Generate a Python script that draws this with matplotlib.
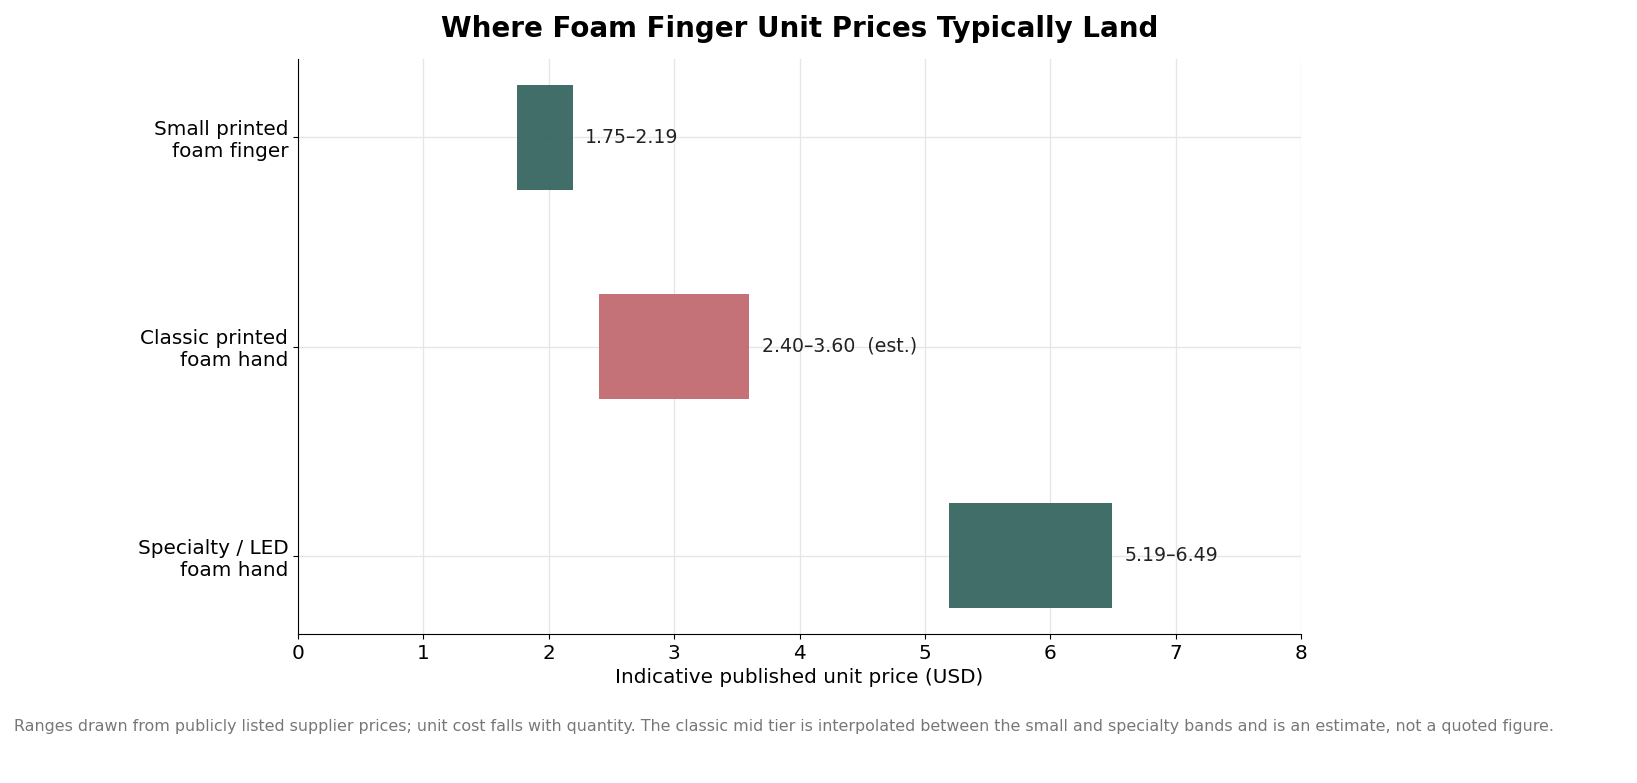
import matplotlib
matplotlib.use("Agg")
import matplotlib.pyplot as plt

categories = ["Small printed\nfoam finger", "Classic printed\nfoam hand", "Specialty / LED\nfoam hand"]
low = [1.75, 2.40, 5.19]
high = [2.19, 3.60, 6.49]
notes = ["", "  (est.)", ""]
colors = ["#2d5e5a", "#be6368", "#2d5e5a"]

fig = plt.figure(figsize=(16.37, 7.83), dpi=100)
ax = fig.add_axes([298 / 1637, 1 - 634 / 783, (1301 - 298) / 1637, (634 - 59) / 783])

ypos = list(range(len(categories)))
widths = [h - l for l, h in zip(low, high)]
ax.barh(ypos, widths, left=low, height=0.5, color=colors, alpha=0.9, zorder=3)
for y, l, h, n in zip(ypos, low, high, notes):
    ax.text(h + 0.1, y, f"{l:.2f}\u2013{h:.2f}{n}", va="center", ha="left",
            fontsize=13.6, color="#222222", zorder=4)

ax.set_yticks(ypos)
ax.set_yticklabels(categories, fontsize=14.4)
ax.invert_yaxis()
ax.set_xlim(0, 8)
ax.tick_params(axis="x", labelsize=14.4)
ax.set_xlabel("Indicative published unit price (USD)", fontsize=14.4)
ax.grid(True, color="#e6e6e6", lw=1, zorder=0)
ax.set_axisbelow(True)
for s in ("top", "right"):
    ax.spines[s].set_visible(False)
ax.set_title("Where Foam Finger Unit Prices Typically Land", fontsize=20,
             fontweight="bold", pad=16)

fig.text(14 / 1637, 1 - 727 / 783,
         "Ranges drawn from publicly listed supplier prices; unit cost falls with quantity. "
         "The classic mid tier is interpolated between the small and specialty bands and is "
         "an estimate, not a quoted figure.",
         ha="left", va="center", fontsize=11.4, color="#777777")

fig.savefig("out.png", dpi=100)
